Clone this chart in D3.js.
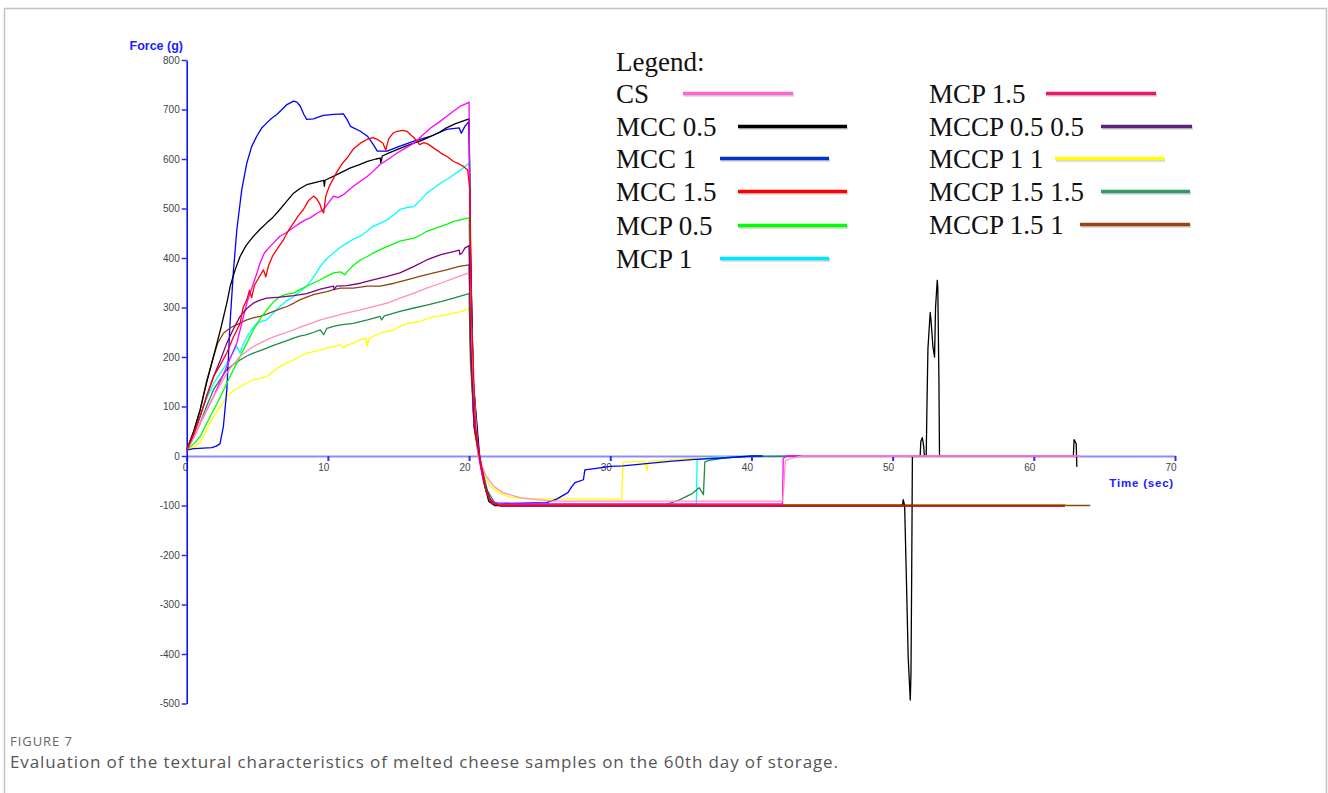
<!DOCTYPE html>
<html>
<head>
<meta charset="utf-8">
<script src="https://cdn.jsdelivr.net/npm/d3@7"></script>
<style>
  html, body { margin: 0; padding: 0; background: #fff; }
  svg { display: block; }
</style>
</head>
<body>
<svg id="chart" width="1328" height="793"></svg>
<script>
// ---------------- DATA ----------------
const seriesNames = ["CS", "MCC 0.5", "MCC 1", "MCC 1.5", "MCP 0.5", "MCP 1", "MCP 1.5",
  "MCCP 0.5 0.5", "MCCP 1 1", "MCCP 1.5 1.5", "MCCP 1.5 1"];

const xTicks = [0, 10, 20, 30, 40, 50, 60, 70];
const yTicks = [-500, -400, -300, -200, -100, 0, 100, 200, 300, 400, 500, 600, 700, 800];

// [time (sec), force (g)]
const csData = [[0,12],[0.5,38],[0.95,66],[1.4,93],[1.9,120],[2.4,145],[2.84,167],[3.3,185],[3.78,201],[4.26,212],[4.73,221],[5.2,228],[5.67,235],[6.1,240],[6.6,245],[7.1,250],[7.57,255],[8.0,260],[8.5,265],[9.0,270],[9.46,275],[10.4,282],[11.35,289],[12.3,295],[13.2,302],[14.2,309],[15.1,319],[16.1,329],[17.0,339],[18.0,349],[18.9,359],[19.5,365],[20.0,370],
  [20.1,330],[20.3,150],[20.65,0],[21.2,-40],[21.7,-60],[22.4,-74],[23.6,-84],[24.8,-88],[26,-91],[42.2,-91],[42.3,-60],[42.4,-10],[42.8,-5],[43.6,0],[63.3,0]];

const mcc05Data = [[0,12],[0.5,50],[0.95,93],[1.4,147],[1.9,201],[2.4,256],[2.84,309],[3.1,345],[3.43,376],[3.78,403],[4.2,425],[4.73,444],[5.2,458],[5.67,471],[6.1,482],[6.6,498],[7.0,512],[7.57,531],[8.0,540],[8.5,548],[9.0,552],[9.7,557],[9.75,545],[9.8,557],[10.6,568],[11.1,575],[11.6,582],[12.2,588],[12.8,595],[13.4,600],[13.7,602],[13.75,592],[13.85,606],[14.3,612],[14.9,619],[15.5,626],[16.1,632],[16.7,638],[17.3,646],[17.9,654],[18.4,663],[19.0,671],[19.5,676],[20.0,681],
  [20.1,420],[20.3,150],[20.7,0],[21.1,-60],[21.4,-92],[21.8,-100],[50.7,-100],[50.75,-88],[50.85,-100],[51.0,-277],[51.1,-405],[51.25,-493],[51.3,-440],[51.35,-240],[51.4,0],[51.95,0],[52.0,30],[52.1,37],[52.2,20],[52.25,0],[52.38,0],[52.42,80],[52.5,216],[52.66,290],[52.73,270],[52.85,222],[52.97,200],[53.04,300],[53.16,355],[53.2,340],[53.28,150],[53.32,0],[62.8,0],[62.85,33],[63.0,25],[63.05,-22]];

const mcc1Data = [[0,12],[0.5,15],[1.2,16],[1.77,17],[2.1,20],[2.36,25],[2.6,60],[2.84,133],[3.07,268],[3.3,370],[3.55,457],[3.9,538],[4.26,592],[4.6,625],[4.96,646],[5.3,662],[5.67,673],[6.0,682],[6.38,690],[6.75,700],[7.1,710],[7.57,717],[7.8,715],[8.04,707],[8.3,690],[8.5,680],[8.98,681],[9.46,686],[9.7,688],[10.4,690],[11.1,691],[11.35,680],[11.6,666],[12.3,656],[12.8,646],[13.2,630],[13.5,616],[14.2,616],[15.1,626],[16.1,636],[17.3,646],[18.4,660],[19.3,663],[19.45,652],[19.7,666],[20.0,676],
  [20.1,400],[20.3,150],[20.75,0],[21.1,-55],[21.5,-90],[22,-96],[25.5,-94],[26.2,-87],[27.0,-74],[27.3,-61],[27.5,-54],[28.1,-48],[28.2,-28],[29.0,-25],[30.0,-21],[30.9,-20],[34.2,-11],[36,-7],[38,-4],[40,0],[40.8,0]];

const mcc15Data = [[0,12],[0.5,45],[0.95,80],[1.4,120],[1.9,160],[2.4,185],[2.84,208],[3.3,240],[3.78,268],[4.0,300],[4.26,316],[4.45,335],[4.6,320],[4.8,345],[5.1,360],[5.44,376],[5.6,362],[5.8,385],[6.1,405],[6.38,417],[6.86,437],[7.2,455],[7.57,471],[7.9,485],[8.27,498],[8.6,515],[8.98,525],[9.2,520],[9.4,511],[9.6,495],[9.7,491],[9.85,525],[10.1,545],[10.6,572],[11.0,590],[11.35,602],[11.8,620],[12.3,632],[12.8,640],[13.2,643],[13.6,638],[13.9,632],[14.1,618],[14.3,640],[14.6,652],[14.9,656],[15.3,658],[15.6,656],[15.9,648],[16.1,643],[16.5,629],[16.8,633],[17.1,630],[17.5,622],[18.0,612],[18.5,604],[18.9,595],[19.3,590],[19.6,585],[19.9,578],
  [20.05,540],[20.2,260],[20.45,60],[20.8,-10],[21.2,-70],[21.6,-95],[22.2,-100],[62.2,-100]];

const mcp05Data = [[0,12],[0.5,25],[0.95,39],[1.4,65],[1.9,93],[2.4,120],[2.84,147],[3.3,174],[3.78,201],[4.26,228],[4.73,255],[5.2,277],[5.67,295],[6.1,310],[6.6,322],[7.1,327],[7.57,329],[8.0,336],[8.5,343],[9.0,350],[9.46,356],[9.9,363],[10.4,370],[10.9,372],[11.2,366],[11.35,372],[11.8,385],[12.3,396],[12.8,403],[13.2,410],[13.7,417],[14.2,423],[14.7,429],[15.1,434],[15.6,437],[16.1,440],[16.6,447],[17.0,454],[17.5,459],[18.0,464],[18.5,469],[18.9,474],[19.5,478],[20.0,481],
  [20.1,280],[20.35,80],[20.7,0],[21.1,-60],[21.5,-92],[22,-99],[62.3,-99]];

const mcp1Data = [[0,12],[0.5,45],[0.95,80],[1.4,115],[1.9,147],[2.4,168],[2.84,187],[3.2,205],[3.55,221],[3.78,208],[4.0,225],[4.26,241],[4.6,255],[4.96,268],[5.3,272],[5.67,275],[6.1,288],[6.6,302],[7.1,314],[7.57,322],[8.0,332],[8.5,343],[9.0,362],[9.46,383],[9.9,398],[10.4,410],[10.9,422],[11.35,430],[11.8,438],[12.3,444],[12.8,455],[13.2,464],[13.7,470],[14.2,477],[14.7,488],[15.1,498],[15.6,502],[16.1,504],[16.6,518],[17.0,531],[17.5,541],[18.0,552],[18.5,560],[18.9,568],[19.5,580],[20.0,592],
  [20.1,320],[20.35,90],[20.75,0],[21.2,-65],[21.6,-92],[22.2,-98],[36.1,-98],[36.15,-8],[37,-4],[39,-1],[41,0]];

const mcp15Data = [[0,12],[0.5,38],[0.95,66],[1.4,92],[1.9,120],[2.4,152],[2.84,181],[3.2,205],[3.55,228],[3.9,268],[4.26,309],[4.5,330],[4.73,349],[5.0,372],[5.2,390],[5.5,410],[5.9,423],[6.2,432],[6.6,444],[7.0,450],[7.33,457],[7.7,464],[8.04,471],[8.4,477],[8.75,481],[9.2,490],[9.7,498],[10.0,510],[10.4,525],[10.7,522],[11.1,528],[11.5,538],[11.8,545],[12.3,555],[12.8,565],[13.2,575],[13.7,589],[14.3,600],[14.9,612],[15.5,622],[16.1,632],[16.7,648],[17.3,663],[17.9,675],[18.4,686],[18.9,697],[19.4,707],[19.8,712],[20.0,715],
  [20.1,300],[20.3,90],[20.6,10],[21.0,-50],[21.4,-85],[21.9,-95],[22.5,-97],[42.2,-97],[42.25,-5],[42.5,0],[63.2,0]];

const mccp0505Data = [[0,12],[0.5,45],[0.95,80],[1.4,120],[1.9,160],[2.4,195],[2.84,228],[3.3,256],[3.78,282],[4.26,298],[4.73,309],[5.2,315],[5.67,319],[6.6,321],[7.57,324],[8.5,328],[9.46,337],[10.4,343],[10.45,336],[10.6,343],[11.35,344],[12.3,349],[13.2,356],[14.2,363],[15.1,370],[16.1,383],[17.0,396],[18.0,407],[18.9,413],[19.3,416],[19.35,407],[19.5,410],[19.7,420],[20.0,425],
  [20.1,230],[20.35,60],[20.75,-5],[21.15,-65],[21.6,-94],[22.2,-101],[62.2,-101]];

const mccp11Data = [[0,12],[0.5,18],[0.95,26],[1.4,52],[1.9,80],[2.4,100],[2.84,120],[3.3,132],[3.78,140],[4.26,148],[4.73,154],[5.2,157],[5.67,160],[6.1,170],[6.6,181],[7.1,188],[7.57,194],[8.0,201],[8.5,208],[9.0,211],[9.46,214],[9.9,218],[10.4,221],[10.9,225],[11.1,219],[11.35,224],[11.8,228],[12.3,235],[12.7,238],[12.8,221],[12.9,237],[13.3,243],[13.7,248],[14.2,252],[14.7,255],[15.1,262],[15.6,268],[16.1,270],[16.5,272],[17.0,277],[17.5,282],[18.0,283],[18.4,285],[19.0,289],[19.5,292],[20.0,299],
  [20.1,180],[20.4,40],[20.8,-15],[21.4,-58],[22.1,-74],[22.8,-82],[23.8,-86],[30.8,-87],[30.9,-13],[31.4,-12],[32.45,-11],[32.6,-30],[32.7,-11],[34.2,-8],[36,-5],[38.3,-2],[40,0]];

const mccp1515Data = [[0,12],[0.5,38],[0.95,66],[1.4,100],[1.9,134],[2.4,156],[2.84,174],[3.3,185],[3.78,194],[4.26,202],[4.73,208],[5.2,213],[5.67,218],[6.1,223],[6.6,228],[7.1,233],[7.57,238],[8.0,242],[8.5,245],[9.0,250],[9.46,255],[9.7,245],[9.93,258],[10.4,262],[10.9,265],[11.8,268],[12.8,275],[13.7,282],[13.8,275],[14.0,283],[14.5,287],[15.1,292],[16.1,299],[17.0,305],[18.0,312],[18.9,319],[19.5,324],[20.0,328],
  [20.1,190],[20.4,50],[20.8,-10],[21.3,-70],[21.8,-94],[22.4,-98],[33.9,-98],[34.8,-90],[35.8,-76],[36.3,-64],[36.6,-78],[36.7,-12],[37,-9],[38.3,-3],[40,-1],[43.6,0]];

const mccp151Data = [[0,12],[0.5,50],[0.95,93],[1.4,150],[1.9,201],[2.2,228],[2.6,248],[3.0,257],[3.3,262],[3.8,269],[4.26,275],[4.7,279],[5.2,282],[5.7,287],[6.15,292],[6.6,297],[7.1,302],[7.6,309],[8.04,316],[8.5,321],[8.98,326],[9.46,329],[9.93,332],[10.4,336],[10.9,339],[11.8,339],[12.8,343],[13.7,343],[14.7,349],[15.6,356],[16.5,363],[17.5,370],[18.4,376],[19.3,383],[20.0,386],
  [20.1,220],[20.35,60],[20.75,-5],[21.2,-70],[21.6,-95],[22.2,-100],[64.0,-100]];

// plot line colours (as drawn in the graph) and legend swatch colours
const lineColors = ["#ff8fb8", "#000000", "#0000ff", "#ff0000", "#00ff00", "#00ffff", "#ff00ff",
  "#800080", "#ffff00", "#1e8c4a", "#8b4513"];
const legendColors = ["#ff66cc", "#000000", "#0033cc", "#ff0000", "#00ff00", "#00e5ff", "#e8186a",
  "#5c2480", "#ffff00", "#339966", "#994411"];

const allData = [csData, mcc05Data, mcc1Data, mcc15Data, mcp05Data, mcp1Data, mcp15Data,
  mccp0505Data, mccp11Data, mccp1515Data, mccp151Data];

// drawing order (last on top)
const drawOrder = [8, 5, 9, 2, 10, 4, 1, 6, 0, 7, 3];

// ---------------- CHART ----------------
const svg = d3.select("#chart");
svg.append("rect").attr("x", 0).attr("y", 0).attr("width", 1328).attr("height", 793).attr("fill", "#fff");
// outer frame
svg.append("path")
  .attr("d", "M4.5,800 L4.5,8.5 L1326.5,8.5 L1326.5,800")
  .attr("fill", "none").attr("stroke", "#c4c4c4").attr("stroke-width", 1.5);

const x = d3.scaleLinear().domain([0, 70]).range([186.7, 1175]);
const y = d3.scaleLinear().domain([-500, 800]).range([703.5, 60]);

const axisFont = "Liberation Sans, Arial, sans-serif";

// x axis at y = 0
const xAxisG = svg.append("g").attr("transform", `translate(0,${y(0)})`)
  .call(d3.axisBottom(x).tickValues(xTicks).tickFormat(d => String(d)).tickSize(5).tickSizeOuter(0).tickPadding(3));
xAxisG.select(".domain").attr("stroke", "#8c8cff").attr("stroke-width", 2);
xAxisG.selectAll(".tick line").attr("stroke", "#2a2aff").attr("stroke-width", 2);
xAxisG.selectAll(".tick text").attr("text-anchor", "end").attr("x", 1)
  .attr("font-family", axisFont).attr("font-size", 10).attr("fill", "#444");

// y axis
const yAxisG = svg.append("g").attr("transform", `translate(${x(0)},0)`)
  .call(d3.axisLeft(y).tickValues(yTicks).tickFormat(d => String(d)).tickSize(5).tickSizeOuter(0).tickPadding(2));
yAxisG.select(".domain").attr("stroke", "#1010ff").attr("stroke-width", 1.6);
yAxisG.selectAll(".tick line").attr("stroke", "#2a2aff").attr("stroke-width", 1.5);
yAxisG.selectAll(".tick text")
  .attr("font-family", axisFont).attr("font-size", 10).attr("fill", "#444");

// axis titles
svg.append("text").attr("x", 183).attr("y", 50).attr("text-anchor", "end")
  .attr("font-family", axisFont).attr("font-size", 12.5).attr("font-weight", "bold")
  .attr("fill", "#2020ff").text("Force (g)");
svg.append("text").attr("x", 1174).attr("y", 487).attr("text-anchor", "end")
  .attr("font-family", axisFont).attr("font-size", 11.5).attr("font-weight", "bold")
  .attr("letter-spacing", 0.8).attr("fill", "#2020ff").text("Time (sec)");

// lines
const line = d3.line().x(d => x(d[0])).y(d => y(d[1]));
const linesG = svg.append("g");
drawOrder.forEach(i => {
  linesG.append("path").datum(allData[i])
    .attr("d", line)
    .attr("fill", "none")
    .attr("stroke", lineColors[i])
    .attr("stroke-width", 1.3)
    .attr("stroke-linejoin", "round");
});

// legend
const legendFont = "Liberation Serif, Times New Roman, serif";
svg.append("text").attr("x", 616).attr("y", 71).attr("font-family", legendFont)
  .attr("font-size", 27).attr("fill", "#111").text("Legend:");
const legendLayout = [
  // [textX, baselineY, lineX1, lineX2]
  [616, 103, 683, 793], [616, 136, 738, 847], [616, 168, 720, 829], [616, 201, 738, 847],
  [616, 235, 738, 847], [616, 268, 720, 829],
  [929, 103, 1046, 1156], [929, 136, 1101, 1192], [929, 168, 1055, 1164], [929, 201, 1101, 1190],
  [929, 234, 1080, 1190]
];
seriesNames.forEach((name, i) => {
  const L = legendLayout[i];
  svg.append("text").attr("x", L[0]).attr("y", L[1]).attr("font-family", legendFont)
    .attr("font-size", 27).attr("fill", "#111").text(name);
  svg.append("line").attr("x1", L[2]).attr("x2", L[3]).attr("y1", L[1] - 9.5).attr("y2", L[1] - 9.5)
    .attr("stroke", "#bbb").attr("stroke-width", 3.5).attr("transform", "translate(1,1.5)").attr("opacity", 0.6);
  svg.append("line").attr("x1", L[2]).attr("x2", L[3]).attr("y1", L[1] - 9.5).attr("y2", L[1] - 9.5)
    .attr("stroke", legendColors[i]).attr("stroke-width", 3.5);
});

// caption
svg.append("text").attr("x", 10).attr("y", 746)
  .attr("font-family", "Open Sans, Noto Sans, sans-serif").attr("font-size", 13).attr("fill", "#666")
  .attr("textLength", 62).attr("lengthAdjust", "spacing")
  .text("FIGURE 7");
svg.append("text").attr("x", 10).attr("y", 768)
  .attr("font-family", "Open Sans, Noto Sans, sans-serif").attr("font-size", 17).attr("fill", "#555")
  .attr("textLength", 828).attr("lengthAdjust", "spacing")
  .text("Evaluation of the textural characteristics of melted cheese samples on the 60th day of storage.");
</script>
</body>
</html>
